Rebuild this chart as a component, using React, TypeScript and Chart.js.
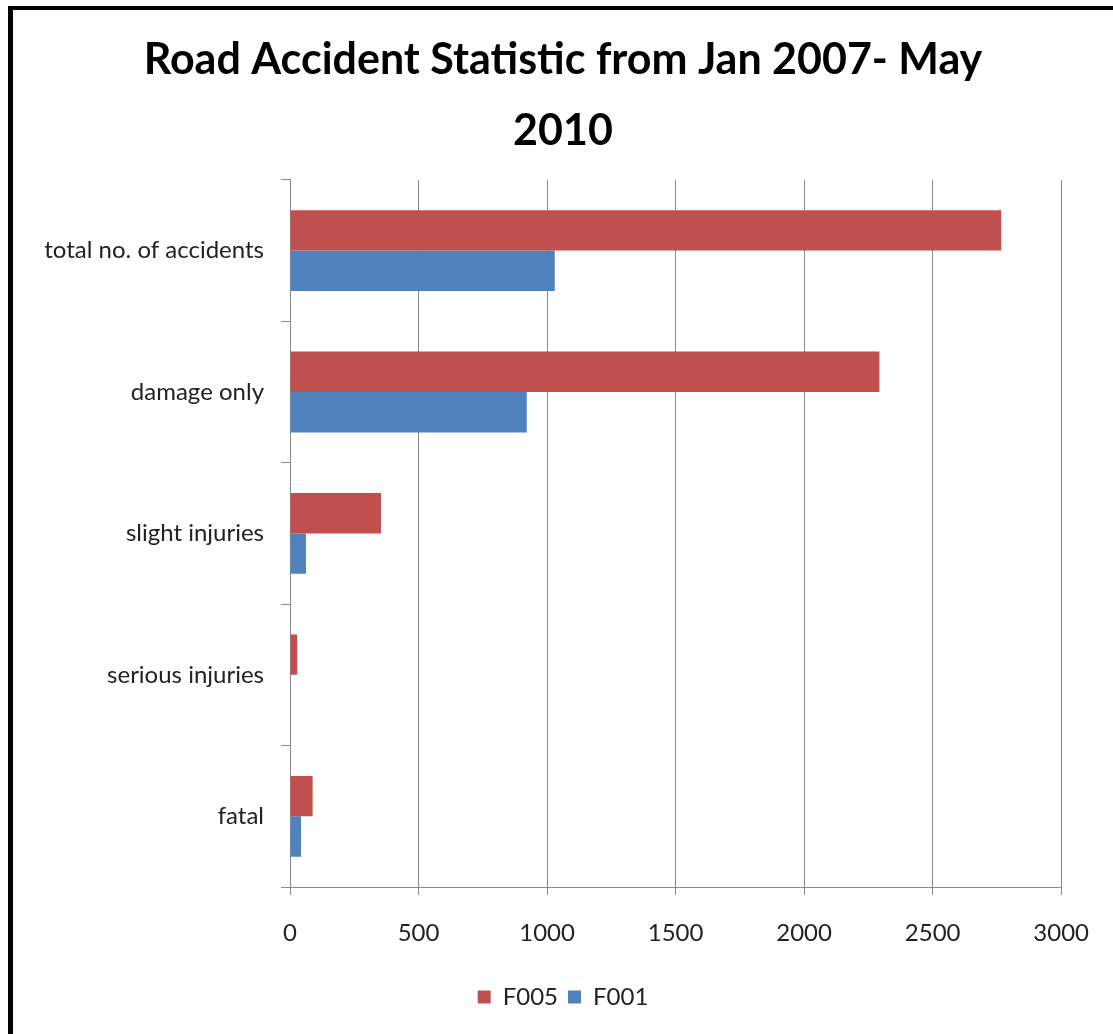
import React, { useEffect, useRef } from "react";
import { Chart, registerables } from "chart.js";

Chart.register(...registerables);

const categories = [
  "total no. of accidents",
  "damage only",
  "slight injuries",
  "serious injuries",
  "fatal",
];
const seriesNames = ["F005", "F001"];
const f005Values = [2767, 2293, 354, 28, 88];
const f001Values = [1030, 921, 62, 0, 43];
const xTickValues = [0, 500, 1000, 1500, 2000, 2500, 3000];
const titleLines = ["Road Accident Statistic from Jan 2007- May", "2010"];

const W = 1113;
const H = 1034;
const PAD_LEFT = 64;

const framePlugin = {
  id: "frame",
  beforeDraw(chart: any) {
    const ctx = chart.ctx;
    ctx.save();
    ctx.fillStyle = "#ffffff";
    ctx.fillRect(0, 0, chart.width, chart.height);
    ctx.fillStyle = "#000000";
    ctx.fillRect(8, 6, 5, chart.height - 6);
    ctx.fillRect(8, 6, chart.width - 8, 4);
    ctx.restore();
  },
};

export default function App() {
  const ref = useRef<HTMLCanvasElement | null>(null);

  useEffect(() => {
    if (!ref.current) return;
    const chart = new Chart(ref.current, {
      type: "bar",
      data: {
        labels: categories,
        datasets: [
          {
            label: seriesNames[0],
            data: f005Values,
            backgroundColor: "#C0504D",
            borderWidth: 0,
            barPercentage: 1,
            categoryPercentage: 2 / 3.5,
          },
          {
            label: seriesNames[1],
            data: f001Values,
            backgroundColor: "#4F81BD",
            borderWidth: 0,
            barPercentage: 1,
            categoryPercentage: 2 / 3.5,
          },
        ],
      },
      options: {
        indexAxis: "y",
        responsive: false,
        animation: false,
        devicePixelRatio: 1,
        layout: { padding: { top: 0, left: PAD_LEFT, right: 51, bottom: 15 } },
        scales: {
          x: {
            type: "linear",
            min: 0,
            max: 3000,
            afterBuildTicks: (scale: any) => {
              scale.ticks = xTickValues.map((v) => ({ value: v }));
            },
            afterFit: (scale: any) => {
              scale.height = 88;
            },
            grid: {
              color: "#8a8a8a",
              lineWidth: 1,
              drawTicks: true,
              tickLength: 8,
              drawOnChartArea: true,
            },
            border: { display: true, color: "#8a8a8a", width: 1 },
            ticks: {
              padding: 24,
              color: "#222222",
              font: { family: "Lato", size: 24 },
              maxRotation: 0,
              callback: (v: any) => String(v),
            },
          },
          y: {
            type: "category",
            afterFit: (scale: any) => {
              scale.width = 290 - PAD_LEFT;
              // let the long category labels extend left of the axis box
              scale._computeLabelArea = () => undefined;
            },
            grid: {
              offset: true,
              color: "#8a8a8a",
              drawOnChartArea: false,
              drawTicks: true,
              tickLength: 9,
            },
            border: { display: true, color: "#8a8a8a", width: 1 },
            ticks: {
              padding: 17,
              color: "#222222",
              font: { family: "Lato", size: 24 },
            },
          },
        },
        plugins: {
          title: {
            display: true,
            text: titleLines,
            color: "#000000",
            font: { family: "Lato", size: 43, weight: "bold", lineHeight: 1.65 },
            padding: { top: 25, bottom: 13 },
          },
          legend: {
            display: true,
            position: "bottom",
            labels: {
              boxWidth: 13,
              boxHeight: 13,
              padding: 10,
              color: "#222222",
              font: { family: "Lato", size: 24 },
            },
          },
          tooltip: { enabled: false },
        },
      },
      plugins: [framePlugin],
    } as any);
    return () => chart.destroy();
  }, []);

  return (
    <canvas
      ref={ref}
      width={W}
      height={H}
      style={{ position: "fixed", top: 0, left: 0, display: "block", width: W, height: H }}
    />
  );
}
